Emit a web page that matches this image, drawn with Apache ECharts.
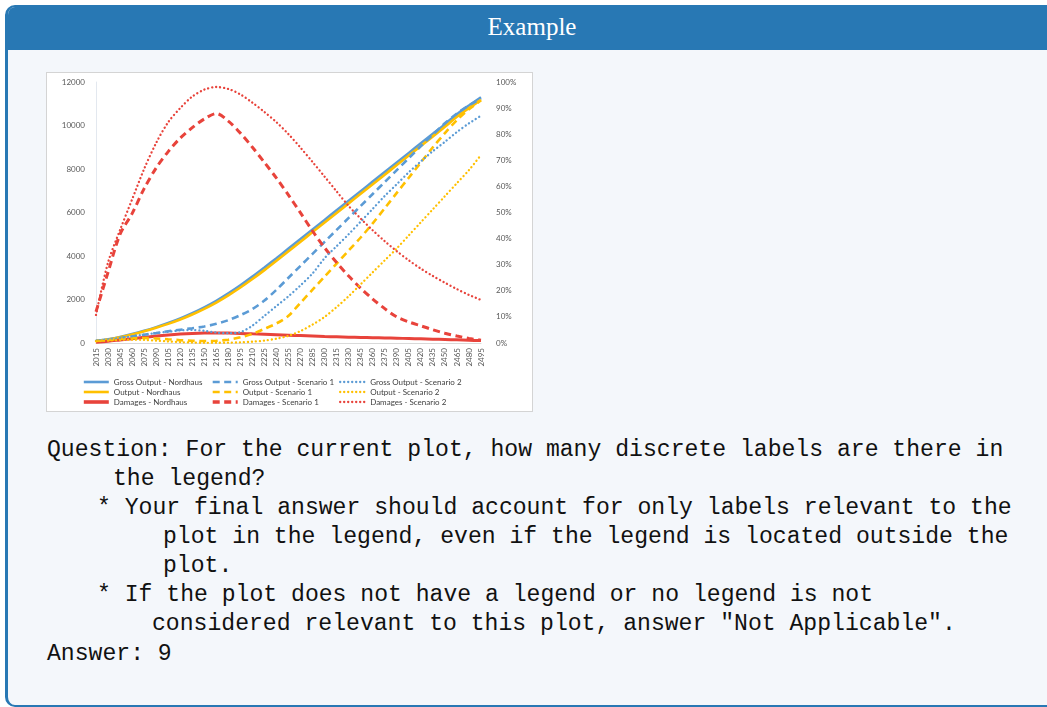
<!DOCTYPE html>
<html>
<head>
<meta charset="utf-8">
<script src="https://cdn.jsdelivr.net/npm/echarts@6/dist/echarts.min.js"></script>
<style>
  html, body { margin: 0; padding: 0; width: 1047px; height: 707px; overflow: hidden; background: #ffffff; }
  .card {
    position: absolute; left: 5px; top: 5px; width: 1060px; height: 698px;
    border: 2px solid #2878b4; border-left-width: 3px; border-radius: 10px; background: #f4f7fb; overflow: hidden;
  }
  .head {
    position: absolute; left: 0; top: 0; width: 100%; height: 43px; background: #2878b4;
    color: #ffffff; font-family: "Liberation Serif", "DejaVu Serif", serif; font-size: 25px;
    line-height: 40px; text-align: center; text-indent: -12px;
  }
  #chart {
    position: absolute; left: 46px; top: 72px; width: 487px; height: 340px;
    background: #ffffff; box-sizing: border-box; border: 1px solid #d4d4d4;
  }
  .q {
    position: absolute; font-family: "Liberation Mono", "DejaVu Sans Mono", monospace;
    font-size: 23.1px; line-height: 29px; color: #111111; white-space: pre;
  }
</style>
</head>
<body>
<div class="card"><div class="head">Example</div></div>
<div id="chart"></div>
<div class="q" style="left:47px; top:436px;">Question: For the current plot, how many discrete labels are there in</div>
<div class="q" style="left:113px; top:465px;">the legend?</div>
<div class="q" style="left:97px; top:494px;">* Your final answer should account for only labels relevant to the</div>
<div class="q" style="left:163px; top:523px;">plot in the legend, even if the legend is located outside the</div>
<div class="q" style="left:163px; top:552px;">plot.</div>
<div class="q" style="left:97px; top:581px;">* If the plot does not have a legend or no legend is not</div>
<div class="q" style="left:152px; top:610px;">considered relevant to this plot, answer "Not Applicable".</div>
<div class="q" style="left:47px; top:640px;">Answer: 9</div>
<script>
// Years on the category axis
const years = ['2015','2030','2045','2060','2075','2090','2105','2120','2135','2150','2165',
  '2180','2195','2210','2225','2240','2255','2270','2285','2300','2315','2330','2345','2360',
  '2375','2390','2405','2420','2435','2450','2465','2480','2495'];

// Nordhaus baseline
const grossOutputNordhaus = [90,170,280,410,560,730,920,1130,1370,1640,1940,2280,2650,3050,3470,3900,4340,4780,5220,5660,6100,6540,6980,7420,7860,8300,8740,9180,9620,10060,10520,10920,11300];
const outputNordhaus = [85,160,265,390,535,700,880,1080,1310,1570,1860,2190,2550,2940,3350,3780,4220,4660,5100,5540,5980,6420,6860,7300,7740,8180,8620,9060,9500,9940,10400,10800,11180];
const damagesNordhaus = [40,80,140,200,260,320,370,410,440,460,465,455,440,420,400,380,360,340,320,300,285,270,258,245,232,220,205,190,175,160,145,128,110];

// Scenario 1
const grossOutputS1 = [100,160,230,300,380,460,540,610,680,760,880,1050,1280,1560,1950,2450,3000,3550,4100,4650,5200,5750,6300,6850,7400,7950,8500,9050,9580,10100,10550,10920,11250];
const outputS1 = [90,140,190,220,230,210,170,130,100,90,100,150,260,420,650,900,1250,1850,2450,3050,3650,4250,4850,5500,6200,6900,7600,8300,9000,9650,10250,10750,11150];
const damagesS1 = [1440,3250,5000,5950,7100,8050,8800,9420,9900,10300,10550,10200,9650,9000,8300,7580,6800,5980,5150,4380,3700,3080,2520,2020,1580,1200,970,790,610,450,320,210,130];

// Scenario 2
const grossOutputS2 = [100,160,230,310,390,460,520,580,600,560,480,450,500,800,1250,1700,2150,2650,3200,3900,4450,5000,5580,6170,6760,7300,7850,8350,8820,9250,9700,10100,10450];
const outputS2 = [80,110,140,150,140,110,70,40,20,10,10,15,30,60,110,200,330,550,850,1200,1650,2150,2700,3250,3800,4350,4950,5550,6150,6750,7350,7950,8650];
const damagesS2 = [1290,3700,5200,6600,8000,9200,10150,10800,11330,11650,11770,11680,11430,11050,10620,10150,9600,8980,8320,7650,6970,6300,5720,5180,4680,4220,3800,3420,3080,2770,2480,2210,1980];

const BLUE = '#5b9bd5', GOLD = '#ffc000', RED = '#e8433b';
const DASH = [7, 4.5];
const DOT = [0.1, 3.9];

function line(name, data, color, kind, width) {
  const ls = { color: color, width: width, type: kind === 'solid' ? 'solid' : (kind === 'dash' ? DASH : DOT), cap: kind === 'dot' ? 'round' : 'butt' };
  return { name: name, type: 'line', data: data, yAxisIndex: 0, symbol: 'none', smooth: 0.3,
           lineStyle: ls, itemStyle: { color: color }, emphasis: { disabled: true } };
}

const series = [
  line('Gross Output - Nordhaus', grossOutputNordhaus, BLUE, 'solid', 2.6),
  line('Output - Nordhaus', outputNordhaus, GOLD, 'solid', 2.6),
  line('Damages - Nordhaus', damagesNordhaus, RED, 'solid', 3),
  line('Gross Output - Scenario 1', grossOutputS1, BLUE, 'dash', 2.6),
  line('Output - Scenario 1', outputS1, GOLD, 'dash', 2.6),
  line('Damages - Scenario 1', damagesS1, RED, 'dash', 3),
  line('Gross Output - Scenario 2', grossOutputS2, BLUE, 'dot', 2.3),
  line('Output - Scenario 2', outputS2, GOLD, 'dot', 2.3),
  line('Damages - Scenario 2', damagesS2, RED, 'dot', 2.3)
];

const legendText = { fontFamily: 'Lato, "Liberation Sans", sans-serif', fontSize: 8, color: '#404040', lineHeight: 10 };
function legendCol(left, names, widths) {
  return { orient: 'vertical', left: left, top: 304, itemWidth: 25, itemHeight: 10.5, itemGap: 0,
           padding: 0, textStyle: legendText, selectedMode: false,
           itemStyle: { opacity: 0 },
           data: names.map((n, i) => ({ name: n, itemStyle: { opacity: 0 }, lineStyle: { width: widths[i], opacity: 1 } })) };
}

const chart = echarts.init(document.getElementById('chart'), null, { renderer: 'canvas' });
chart.setOption({
  animation: false,
  backgroundColor: 'transparent',
  textStyle: { fontFamily: 'Lato, "Liberation Sans", sans-serif' },
  grid: { left: 49, right: 51, top: 9, bottom: 68, containLabel: false },
  xAxis: {
    type: 'category', data: years, boundaryGap: false,
    axisLine: { lineStyle: { color: '#d9d9d9' } }, axisTick: { show: false },
    axisLabel: { rotate: 90, interval: 0, fontSize: 8, color: '#595959', margin: 5 },
    splitLine: { show: false }
  },
  yAxis: [
    { type: 'value', min: 0, max: 12000, interval: 2000,
      axisLine: { show: true, lineStyle: { color: '#e3e8ef' } }, axisTick: { show: false },
      axisLabel: { fontSize: 8, color: '#595959', margin: 11, formatter: v => String(v) },
      splitLine: { show: false } },
    { type: 'value', min: 0, max: 1, interval: 0.1, position: 'right',
      axisLine: { show: false }, axisTick: { show: false },
      axisLabel: { fontSize: 8, color: '#595959', margin: 15, formatter: v => Math.round(v * 100) + '%' },
      splitLine: { show: false } }
  ],
  legend: [
    legendCol(35, ['Gross Output - Nordhaus', 'Output - Nordhaus', 'Damages - Nordhaus'], [2.6, 2.6, 3.6]),
    legendCol(164, ['Gross Output - Scenario 1', 'Output - Scenario 1', 'Damages - Scenario 1'], [2.6, 2.6, 3.4]),
    legendCol(292, ['Gross Output - Scenario 2', 'Output - Scenario 2', 'Damages - Scenario 2'], [2.3, 2.3, 2.3])
  ],
  series: series
});
</script>
</body>
</html>
